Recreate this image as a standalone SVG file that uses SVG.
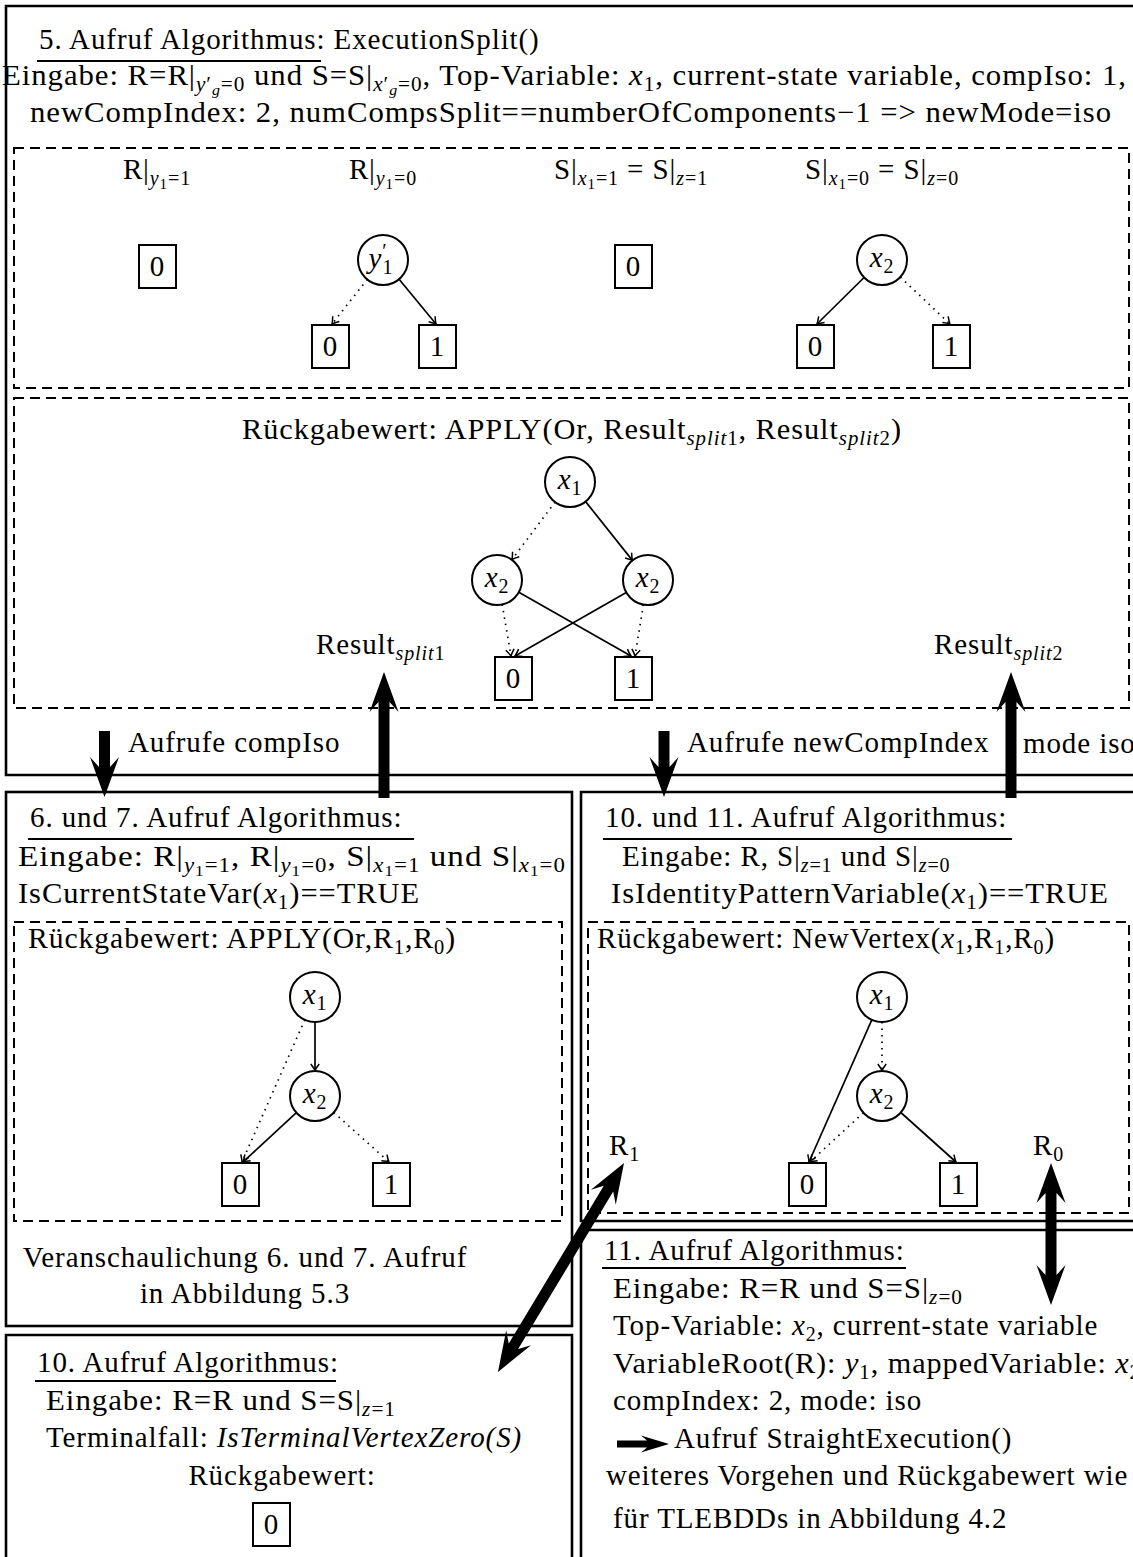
<svg xmlns="http://www.w3.org/2000/svg" width="1133" height="1557" viewBox="0 0 1133 1557">
<defs>
<style>
text{font-family:"Liberation Serif","Times New Roman",serif;font-size:29px;letter-spacing:0.9px;fill:#000}
.i{font-style:italic}
.sb{font-size:20px;baseline-shift:-6px}
.ssb{font-size:15px;baseline-shift:-10px}
.sp{font-size:20px;baseline-shift:10px}
.frame{fill:none;stroke:#000;stroke-width:2.6}
.dash{fill:none;stroke:#000;stroke-width:2;stroke-dasharray:10 6}
.ul{stroke:#000;stroke-width:2.2}
.v circle{fill:#fff;stroke:#000;stroke-width:2}
.t rect{fill:#fff;stroke:#000;stroke-width:2}
.v text,.t text,.c{text-anchor:middle}
.e{fill:none;stroke:#000;stroke-width:1.7;marker-end:url(#tip)}
.dot{stroke-dasharray:1.5 5}
.big{fill:#000;stroke:none}
</style>
<marker id="tip" viewBox="-8 -6 10 12" markerWidth="10" markerHeight="12" refX="0" refY="0" orient="auto" markerUnits="userSpaceOnUse" overflow="visible">
<path d="M-6.5,-4.2 Q-2.5,-1.2 0,0 Q-2.5,1.2 -6.5,4.2" fill="none" stroke="#000" stroke-width="1.5"/>
</marker>
</defs>
<rect width="1133" height="1557" fill="#fff"/>

<!-- call 5: ExecutionSplit -->
<g id="call5">
<path class="frame" d="M1140,6 H6 V775 H1140"/>
<text x="39" y="49">5. Aufruf Algorithmus: ExecutionSplit()</text>
<line class="ul" x1="37" y1="61" x2="321" y2="61"/>
<text x="2" y="85" textLength="1125" lengthAdjust="spacingAndGlyphs">Eingabe: R=R|<tspan class="sb i">y</tspan><tspan class="sb">′</tspan><tspan class="ssb i">g</tspan><tspan class="sb">=0</tspan> und S=S|<tspan class="sb i">x</tspan><tspan class="sb">′</tspan><tspan class="ssb i">g</tspan><tspan class="sb">=0</tspan>, Top-Variable: <tspan class="i">x</tspan><tspan class="sb">1</tspan>, current-state variable, compIso: 1,</text>
<text x="30" y="122" textLength="1082" lengthAdjust="spacingAndGlyphs">newCompIndex: 2, numCompsSplit==numberOfComponents−1 =&gt; newMode=iso</text>

<rect class="dash" x="14" y="148" width="1115" height="240"/>
<text class="c" x="157" y="179">R|<tspan class="sb i">y</tspan><tspan class="ssb">1</tspan><tspan class="sb">=1</tspan></text>
<text class="c" x="383" y="179">R|<tspan class="sb i">y</tspan><tspan class="ssb">1</tspan><tspan class="sb">=0</tspan></text>
<text class="c" x="631" y="179">S|<tspan class="sb i">x</tspan><tspan class="ssb">1</tspan><tspan class="sb">=1</tspan> = S|<tspan class="sb i">z</tspan><tspan class="sb">=1</tspan></text>
<text class="c" x="882" y="179">S|<tspan class="sb i">x</tspan><tspan class="ssb">1</tspan><tspan class="sb">=0</tspan> = S|<tspan class="sb i">z</tspan><tspan class="sb">=0</tspan></text>

<rect class="dash" x="14" y="398" width="1115" height="310"/>
<text class="c" x="572" y="439" textLength="660" lengthAdjust="spacingAndGlyphs">Rückgabewert: APPLY(Or, Result<tspan class="sb i">split</tspan><tspan class="sb">1</tspan>, Result<tspan class="sb i">split</tspan><tspan class="sb">2</tspan>)</text>
<text x="316" y="654">Result<tspan class="sb i">split</tspan><tspan class="sb">1</tspan></text>
<text x="934" y="654">Result<tspan class="sb i">split</tspan><tspan class="sb">2</tspan></text>

<text x="128" y="752">Aufrufe compIso</text>
<text x="687" y="752">Aufrufe newCompIndex</text>
<text x="1023" y="753">mode iso</text>
</g>

<!-- calls 6 and 7 -->
<g id="call67">
<rect class="frame" x="6" y="792" width="566" height="534"/>
<text x="30" y="827">6. und 7. Aufruf Algorithmus:</text>
<line class="ul" x1="28" y1="839" x2="414" y2="839"/>
<text x="18" y="866" textLength="548" lengthAdjust="spacingAndGlyphs">Eingabe: R|<tspan class="sb i">y</tspan><tspan class="ssb">1</tspan><tspan class="sb">=1</tspan>, R|<tspan class="sb i">y</tspan><tspan class="ssb">1</tspan><tspan class="sb">=0</tspan>, S|<tspan class="sb i">x</tspan><tspan class="ssb">1</tspan><tspan class="sb">=1</tspan> und S|<tspan class="sb i">x</tspan><tspan class="ssb">1</tspan><tspan class="sb">=0</tspan></text>
<text x="18" y="903" textLength="402" lengthAdjust="spacingAndGlyphs">IsCurrentStateVar(<tspan class="i">x</tspan><tspan class="sb">1</tspan>)==TRUE</text>
<rect class="dash" x="14" y="922" width="548" height="299"/>
<text x="28" y="948" textLength="428" lengthAdjust="spacingAndGlyphs">Rückgabewert: APPLY(Or,R<tspan class="sb">1</tspan>,R<tspan class="sb">0</tspan>)</text>
<text class="c" x="245" y="1267">Veranschaulichung 6. und 7. Aufruf</text>
<text class="c" x="245" y="1303">in Abbildung 5.3</text>
</g>

<!-- calls 10 and 11 -->
<g id="call1011">
<path class="frame" d="M1140,792 H581 V1221 H1140"/>
<text x="605" y="827">10. und 11. Aufruf Algorithmus:</text>
<line class="ul" x1="603" y1="839" x2="1012" y2="839"/>
<text x="622" y="866">Eingabe: R, S|<tspan class="sb i">z</tspan><tspan class="sb">=1</tspan> und S|<tspan class="sb i">z</tspan><tspan class="sb">=0</tspan></text>
<text x="611" y="903" textLength="498" lengthAdjust="spacingAndGlyphs">IsIdentityPatternVariable(<tspan class="i">x</tspan><tspan class="sb">1</tspan>)==TRUE</text>
<rect class="dash" x="588" y="922" width="541" height="291"/>
<text x="597" y="948" textLength="458" lengthAdjust="spacingAndGlyphs">Rückgabewert: NewVertex(<tspan class="i">x</tspan><tspan class="sb">1</tspan>,R<tspan class="sb">1</tspan>,R<tspan class="sb">0</tspan>)</text>
<text x="609" y="1155">R<tspan class="sb">1</tspan></text>
<text x="1033" y="1155">R<tspan class="sb">0</tspan></text>
</g>

<!-- call 10 -->
<g id="call10">
<path class="frame" d="M572,1565 V1335 H6 V1565"/>
<text x="37" y="1372">10. Aufruf Algorithmus:</text>
<line class="ul" x1="35" y1="1381" x2="336" y2="1381"/>
<text x="46" y="1410" textLength="350" lengthAdjust="spacingAndGlyphs">Eingabe: R=R und S=S|<tspan class="sb i">z</tspan><tspan class="sb">=1</tspan></text>
<text x="46" y="1447">Terminalfall: <tspan class="i">IsTerminalVertexZero(S)</tspan></text>
<text class="c" x="282" y="1485">Rückgabewert:</text>
</g>

<!-- call 11 -->
<g id="call11">
<path class="frame" d="M1140,1230 H581 V1565"/>
<text x="604" y="1260">11. Aufruf Algorithmus:</text>
<line class="ul" x1="602" y1="1268" x2="906" y2="1268"/>
<text x="613" y="1298" textLength="350" lengthAdjust="spacingAndGlyphs">Eingabe: R=R und S=S|<tspan class="sb i">z</tspan><tspan class="sb">=0</tspan></text>
<text x="613" y="1335">Top-Variable: <tspan class="i">x</tspan><tspan class="sb">2</tspan>, current-state variable</text>
<text x="613" y="1373" textLength="528" lengthAdjust="spacingAndGlyphs">VariableRoot(R): <tspan class="i">y</tspan><tspan class="sb">1</tspan>, mappedVariable: <tspan class="i">x</tspan><tspan class="sb">2</tspan></text>
<text x="613" y="1410">compIndex: 2, mode: iso</text>
<path class="big" d="M617,1440.5 H647 L641,1435.5 L669,1444 L641,1452.5 L647,1447.5 H617 Z"/>
<text x="674" y="1448">Aufruf StraightExecution()</text>
<text x="606" y="1485">weiteres Vorgehen und Rückgabewert wie</text>
<text x="613" y="1528">für TLEBDDs in Abbildung 4.2</text>
</g>

<!-- connectors -->
<g id="connectors">
<line class="e dot" x1="367.3" y1="279.4" x2="332" y2="324"/>
<line class="e" x1="399.1" y1="279.2" x2="436" y2="324"/>
<line class="e" x1="864.1" y1="277.5" x2="817" y2="324"/>
<line class="e dot" x1="900.3" y1="277.1" x2="950" y2="324"/>

<line class="e dot" x1="555.1" y1="502" x2="512" y2="559.5"/>
<line class="e" x1="585.6" y1="501.6" x2="632.4" y2="560.4"/>
<line class="e dot" x1="502.2" y1="604.5" x2="511" y2="656"/>
<line class="e" x1="518.8" y1="592.3" x2="631" y2="656"/>
<line class="e" x1="626.3" y1="592.4" x2="515" y2="656"/>
<line class="e dot" x1="643.4" y1="604.6" x2="635" y2="656"/>

<line class="e" x1="315" y1="1022" x2="315" y2="1070.5"/>
<line class="e dot" x1="304.8" y1="1019.8" x2="242" y2="1162"/>
<line class="e" x1="296.4" y1="1112.7" x2="243" y2="1162"/>
<line class="e dot" x1="333.8" y1="1112.5" x2="389" y2="1162"/>

<line class="e" x1="871.8" y1="1019.8" x2="809" y2="1162"/>
<line class="e dot" x1="882" y1="1022" x2="882" y2="1070.5"/>
<line class="e dot" x1="863.4" y1="1112.7" x2="810" y2="1162"/>
<line class="e" x1="900.8" y1="1112.5" x2="956" y2="1162"/>

<!-- thick call / return arrows -->
<path class="big" d="M384,672 L398.5,712 L389.5,702 V798 H378.5 V702 L369.5,712 Z"/>
<path class="big" d="M1011,672 L1025.5,712 L1016.5,702 V798 H1005.5 V702 L996.5,712 Z"/>
<path class="big" d="M99,731 H110 V767 L119,757 L104.5,797 L90,757 L99,767 Z"/>
<path class="big" d="M658.5,731 H669.5 V767 L678.5,757 L664,797 L649.5,757 L658.5,767 Z"/>
<path class="big" d="M1051,1163 L1065.5,1203 L1056.5,1193 V1275 L1065.5,1265 L1051,1305 L1036.5,1265 L1045.5,1275 V1193 L1036.5,1203 Z"/>
<path class="big" transform="translate(624,1163) rotate(121.1)" d="M0,0 L40,14.5 L30,5.5 H214 L204,14.5 L244,0 L204,-14.5 L214,-5.5 H30 L40,-14.5 Z"/>
</g>

<!-- BDD vertices -->
<g id="r-y1-1-zero" class="t"><rect x="139" y="245" width="37" height="43"/><text x="157.5" y="276">0</text></g>
<g id="r-y1-0-root" class="v"><circle cx="383" cy="260" r="25"/><text x="381" y="268"><tspan class="i">y</tspan><tspan class="sp">′</tspan><tspan class="sb" dx="-5">1</tspan></text></g>
<g id="r-y1-0-zero" class="t"><rect x="312" y="325" width="37" height="43"/><text x="330.5" y="356">0</text></g>
<g id="r-y1-0-one" class="t"><rect x="419" y="325" width="37" height="43"/><text x="437.5" y="356">1</text></g>
<g id="s-x1-1-zero" class="t"><rect x="615" y="245" width="37" height="43"/><text x="633.5" y="276">0</text></g>
<g id="s-x1-0-root" class="v"><circle cx="882" cy="260" r="25"/><text x="882" y="267"><tspan class="i">x</tspan><tspan class="sb">2</tspan></text></g>
<g id="s-x1-0-zero" class="t"><rect x="797" y="325" width="37" height="43"/><text x="815.5" y="356">0</text></g>
<g id="s-x1-0-one" class="t"><rect x="933" y="325" width="37" height="43"/><text x="951.5" y="356">1</text></g>

<g id="or-x1" class="v"><circle cx="570" cy="482" r="25"/><text x="570" y="489"><tspan class="i">x</tspan><tspan class="sb">1</tspan></text></g>
<g id="or-x2-left" class="v"><circle cx="497" cy="580" r="25"/><text x="497" y="587"><tspan class="i">x</tspan><tspan class="sb">2</tspan></text></g>
<g id="or-x2-right" class="v"><circle cx="648" cy="580" r="25"/><text x="648" y="587"><tspan class="i">x</tspan><tspan class="sb">2</tspan></text></g>
<g id="or-zero" class="t"><rect x="495" y="657" width="37" height="43"/><text x="513.5" y="688">0</text></g>
<g id="or-one" class="t"><rect x="615" y="657" width="37" height="43"/><text x="633.5" y="688">1</text></g>

<g id="c67-x1" class="v"><circle cx="315" cy="997" r="25"/><text x="315" y="1004"><tspan class="i">x</tspan><tspan class="sb">1</tspan></text></g>
<g id="c67-x2" class="v"><circle cx="315" cy="1096" r="25"/><text x="315" y="1103"><tspan class="i">x</tspan><tspan class="sb">2</tspan></text></g>
<g id="c67-zero" class="t"><rect x="222" y="1163" width="37" height="43"/><text x="240.5" y="1194">0</text></g>
<g id="c67-one" class="t"><rect x="373" y="1163" width="37" height="43"/><text x="391.5" y="1194">1</text></g>

<g id="c1011-x1" class="v"><circle cx="882" cy="997" r="25"/><text x="882" y="1004"><tspan class="i">x</tspan><tspan class="sb">1</tspan></text></g>
<g id="c1011-x2" class="v"><circle cx="882" cy="1096" r="25"/><text x="882" y="1103"><tspan class="i">x</tspan><tspan class="sb">2</tspan></text></g>
<g id="c1011-zero" class="t"><rect x="789" y="1163" width="37" height="43"/><text x="807.5" y="1194">0</text></g>
<g id="c1011-one" class="t"><rect x="940" y="1163" width="37" height="43"/><text x="958.5" y="1194">1</text></g>

<g id="c10-zero" class="t"><rect x="253" y="1503" width="37" height="43"/><text x="271.5" y="1534">0</text></g>
</svg>
